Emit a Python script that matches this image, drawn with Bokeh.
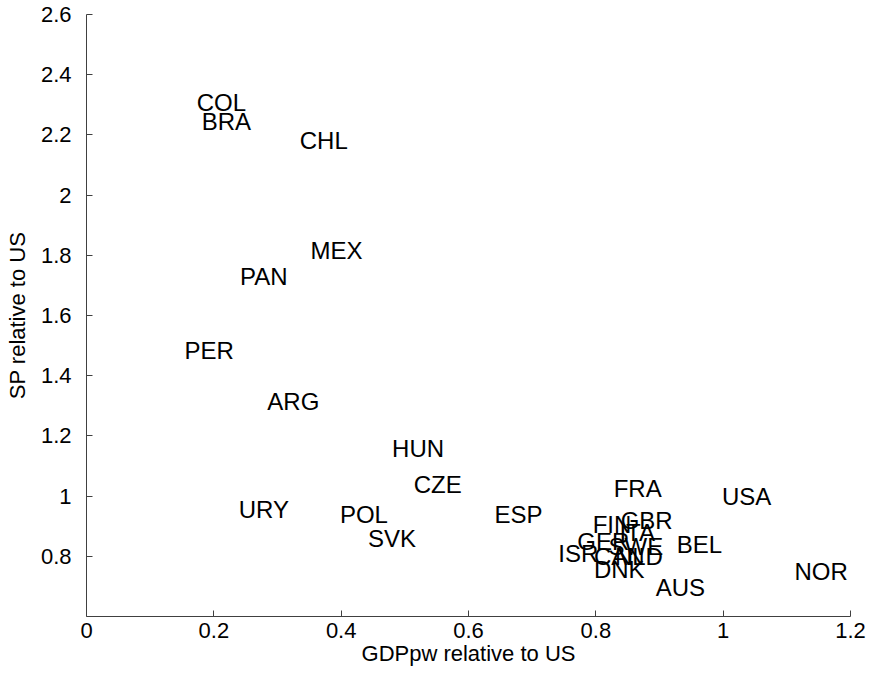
from bokeh.plotting import figure
from bokeh.models import ColumnDataSource, Range1d, FixedTicker
from bokeh.core.properties import value
from bokeh.embed import file_html
from bokeh.resources import INLINE

countries = ["COL", "BRA", "CHL", "MEX", "PAN", "PER", "ARG", "HUN", "CZE", "URY",
             "POL", "SVK", "ESP", "FRA", "USA", "BEL", "NOR", "AUS",
             "FIN", "GBR", "ITA", "GER", "SWE", "ISR", "CAN", "NLD", "DNK"]
gdp_rel = [0.173, 0.181, 0.335, 0.352, 0.241, 0.154, 0.284, 0.480, 0.514, 0.239,
           0.398, 0.442, 0.641, 0.828, 0.998, 0.927, 1.112, 0.894,
           0.795, 0.839, 0.837, 0.771, 0.820, 0.741, 0.797, 0.830, 0.797]
sp_rel = [2.308, 2.243, 2.180, 1.816, 1.731, 1.485, 1.315, 1.157, 1.039, 0.954,
          0.938, 0.859, 0.938, 1.026, 1.000, 0.839, 0.748, 0.698,
          0.905, 0.918, 0.880, 0.849, 0.833, 0.810, 0.800, 0.800, 0.757]

x_ticks = [0, 0.2, 0.4, 0.6, 0.8, 1.0, 1.2]
y_ticks = [0.8, 1.0, 1.2, 1.4, 1.6, 1.8, 2.0, 2.2, 2.4, 2.6]

src = ColumnDataSource(dict(x=gdp_rel, y=sp_rel, t=countries))

FONT = "Liberation Sans"

p = figure(width=866, height=672, output_backend="svg", toolbar_location=None,
           x_range=Range1d(0, 1.2), y_range=Range1d(0.6, 2.6),
           min_border_left=86, min_border_right=16, min_border_top=14, min_border_bottom=56)
p.outline_line_color = None
p.xgrid.visible = False
p.ygrid.visible = False
p.background_fill_color = "white"
p.border_fill_color = "white"

p.text(x="x", y="y", text="t", source=src, text_font=value(FONT),
       text_font_size="24px", text_color="black", text_align="left",
       text_baseline="middle")

for ax in (p.xaxis[0], p.yaxis[0]):
    ax.axis_line_color = "#404040"
    ax.axis_line_width = 1
    ax.major_tick_line_color = "#404040"
    ax.major_tick_in = 6
    ax.major_tick_out = 0
    ax.minor_tick_line_color = None
    ax.major_label_text_font = FONT
    ax.major_label_text_font_size = "22px"
    ax.major_label_text_color = "black"
    ax.axis_label_text_font = FONT
    ax.axis_label_text_font_size = "22px"
    ax.axis_label_text_font_style = "normal"
    ax.axis_label_text_color = "black"

p.xaxis.ticker = FixedTicker(ticks=x_ticks)
p.yaxis.ticker = FixedTicker(ticks=y_ticks)
p.xaxis.major_label_overrides = {0: "0", 1: "1", 1.0: "1"}
p.yaxis.major_label_overrides = {1: "1", 1.0: "1", 2: "2", 2.0: "2"}
p.xaxis.axis_label = "GDPpw relative to US"
p.yaxis.axis_label = "SP relative to US"
p.xaxis.major_label_standoff = 6
p.yaxis.major_label_standoff = 15
p.xaxis.axis_label_standoff = 0
p.yaxis.axis_label_standoff = 8

open("out.html", "w").write(file_html(p, INLINE))
